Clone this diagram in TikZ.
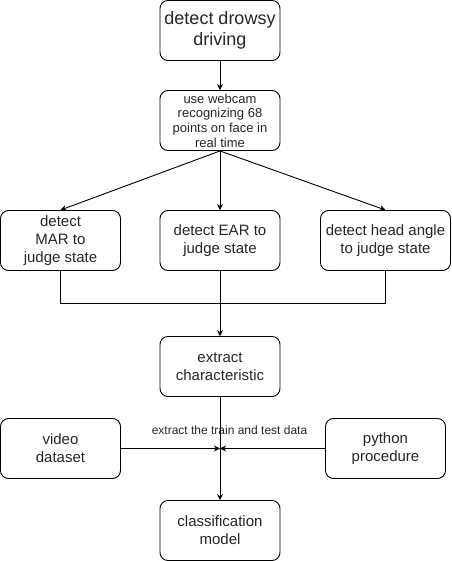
\documentclass[tikz,border=0pt]{standalone}
\usepackage{fontspec}
\setmainfont{Liberation Sans}
\usetikzlibrary{arrows.meta}
\begin{document}
\begin{tikzpicture}[x=1pt,y=-1pt,
  box/.style={draw=black, line width=0.9pt, rounded corners=8pt, minimum width=120pt, minimum height=60pt, inner sep=0pt, align=center, text=black!85, font=\fontsize{15}{18}\selectfont},
  conn/.style={draw=black, line width=0.9pt},
  arr/.style={conn, -{Stealth[length=6pt,width=6pt,inset=2pt]}}]
\useasboundingbox (0,0) rectangle (451,561);
\node[box, font=\fontsize{18}{21.6}\selectfont] (top) at (220,30.5) {detect drowsy\\driving};
\node[box, font=\fontsize{13}{14.7}\selectfont] (cam) at (220,120.5) {use webcam\\recognizing 68\\points on face in\\real time};
\node[box] (mar) at (60.5,240.5) {detect\\MAR to\\judge state};
\node[box] (ear) at (220,240.5) {detect EAR to\\judge state};
\node[box, minimum width=130pt] (head) at (385.5,240.5) {detect head angle\\to judge state};
\node[box] (ext) at (220,366.5) {extract\\characteristic};
\node[box] (vid) at (60.5,448.5) {video\\dataset};
\node[box] (py) at (385.5,448.5) {python\\procedure};
\node[box] (cls) at (220,530.5) {classification\\model};
\coordinate (bus) at (220,303.5);
\coordinate (meet) at (220,448.5);
\node[font=\fontsize{12}{14}\selectfont, text=black!85, inner sep=0pt] (lbl) at (229.5,430) {extract the train and test data};
\draw[arr] (top) -- (cam);
\draw[arr] (cam.south) -- (mar.north);
\draw[arr] (cam.south) -- (ear.north);
\draw[arr] (cam.south) -- (head.north);
\draw[conn] (mar.south) |- (bus) -| (head.south);
\draw[arr] (ear.south) -- (ext.north);
\draw[arr] (ext.south) -- (cls.north);
\draw[arr] (vid.east) -- (meet);
\draw[arr] (py.west) -- (meet);
\end{tikzpicture}
\end{document}
